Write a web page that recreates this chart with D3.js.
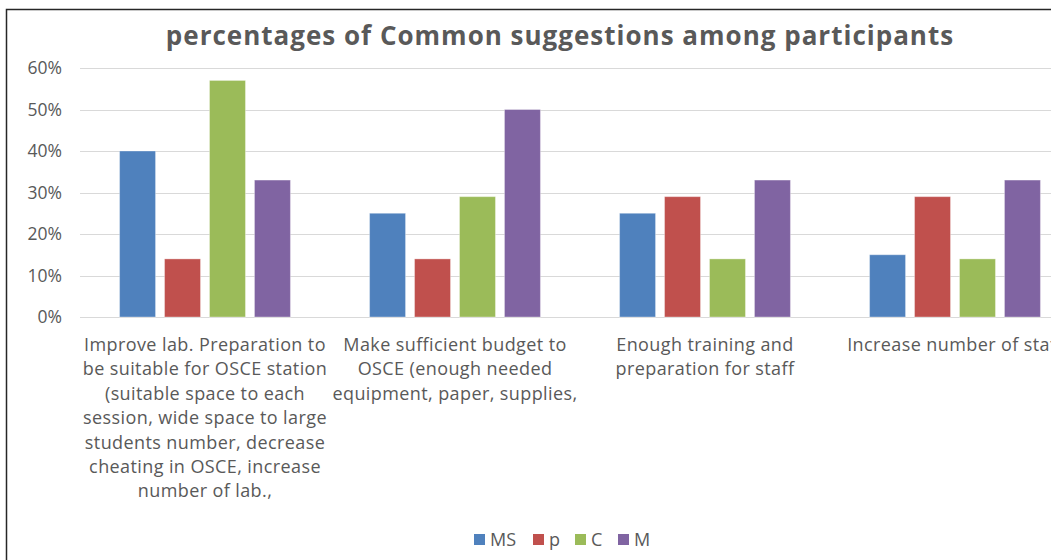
<!DOCTYPE html>
<html>
<head>
<meta charset="utf-8">
<script src="https://cdn.jsdelivr.net/npm/d3@7"></script>
<style>
	body { margin: 0; background: #fff; }
	svg { display: block; font-family: "Open Sans", "Noto Sans", sans-serif; }
</style>
</head>
<body>
<div id="chart"></div>
<script>
// Data
//---------------------------------------------------------------------------
var categories = ["lab", "budget", "training", "staff"];
var categoryLines = [
	["Improve lab. Preparation to", "be suitable for OSCE station", "(suitable space to each",
		"session, wide space to large", "students number, decrease", "cheating in OSCE, increase",
		"number of lab.,"],
	["Make sufficient budget to", "OSCE (enough needed", "equipment, paper, supplies,"],
	["Enough training and", "preparation for staff"],
	["Increase number of staff"]
];
var seriesNames = ["MS", "p", "C", "M"];
var msValues = [40, 25, 25, 15];
var pValues = [14, 14, 29, 29];
var cValues = [57, 29, 14, 14];
var mValues = [33, 50, 33, 33];
var yTicks = [0, 10, 20, 30, 40, 50, 60];
var colors = ["#4F81BD", "#C0504D", "#9BBB59", "#8064A2"];

var seriesValues = [msValues, pValues, cValues, mValues];

// Graphical parameters
var width = 1051, height = 560;
var textColor = "#595959";
var plot = { left: 80, right: 1080, top: 68, bottom: 317 };

var svg = d3.select("#chart").append("svg")
	.attr("width", width)
	.attr("height", height);

// frame of chart (right and bottom are cut off in the picture)
svg.append("path")
	.attr("d", "M6.5," + height + " L6.5,9.5 L" + width + ",9.5")
	.attr("fill", "none")
	.attr("stroke", "#262626")
	.attr("stroke-width", 1.5);

// scales
var x0 = d3.scaleBand()
	.domain(categories)
	.range([plot.left, plot.right]);
var x1 = d3.scaleBand()
	.domain(seriesNames)
	.range([0, x0.bandwidth()])
	.paddingInner(0.2)
	.paddingOuter(0.88);
var y = d3.scaleLinear()
	.domain([0, 60])
	.range([plot.bottom, plot.top]);

// gridlines
svg.append("g").selectAll("line")
	.data(yTicks).enter()
	.append("line")
	.attr("x1", plot.left)
	.attr("x2", plot.right)
	.attr("y1", function(d) { return Math.round(y(d)) + 0.5; })
	.attr("y2", function(d) { return Math.round(y(d)) + 0.5; })
	.attr("stroke", "#D9D9D9")
	.attr("stroke-width", 1);

// y axis labels
var yAxis = d3.axisLeft(y)
	.tickValues(yTicks)
	.tickSize(0)
	.tickPadding(18)
	.tickFormat(function(d) { return d + "%"; });
var gy = svg.append("g")
	.attr("transform", "translate(" + plot.left + ",0)")
	.call(yAxis);
gy.select(".domain").remove();
gy.selectAll("text")
	.attr("fill", textColor)
	.attr("font-size", "17.5px")
	.attr("font-family", "Open Sans, sans-serif");

// bars
var groups = svg.append("g").selectAll("g")
	.data(categories).enter()
	.append("g")
	.attr("transform", function(d) { return "translate(" + x0(d) + ",0)"; });

groups.selectAll("rect")
	.data(function(d, i) {
		return seriesNames.map(function(s, j) {
			return { series: s, value: seriesValues[j][i], color: colors[j] };
		});
	}).enter()
	.append("rect")
	.attr("x", function(d) { return x1(d.series); })
	.attr("width", x1.bandwidth())
	.attr("y", function(d) { return y(d.value); })
	.attr("height", function(d) { return y(0) - y(d.value); })
	.attr("fill", function(d) { return d.color; })
	.attr("stroke", "#ffffff")
	.attr("stroke-opacity", 0.35)
	.attr("stroke-width", 1);

// category labels
var lineHeight = 24.4;
var labels = svg.append("g").selectAll("text")
	.data(categories).enter()
	.append("text")
	.attr("x", function(d) { return x0(d) + x0.bandwidth() / 2; })
	.attr("y", 351)
	.attr("text-anchor", "middle")
	.attr("fill", textColor)
	.attr("font-size", "18px")
	.attr("letter-spacing", "0.4px");
labels.selectAll("tspan")
	.data(function(d, i) { return categoryLines[i]; }).enter()
	.append("tspan")
	.attr("x", function() { return d3.select(this.parentNode).attr("x"); })
	.attr("dy", function(d, i) { return i === 0 ? 0 : lineHeight; })
	.text(function(d) { return d; });

// title
svg.append("text")
	.attr("x", 560)
	.attr("y", 45)
	.attr("text-anchor", "middle")
	.attr("fill", textColor)
	.attr("font-weight", "bold")
	.attr("font-size", "26px")
	.attr("letter-spacing", "1px")
	.text("percentages of Common suggestions among participants");

// legend
var legendX = [474, 533, 575, 618];
var legend = svg.append("g").selectAll("g")
	.data(seriesNames).enter()
	.append("g")
	.attr("transform", function(d, i) { return "translate(" + legendX[i] + ",534)"; });
legend.append("rect")
	.attr("width", 11)
	.attr("height", 11)
	.attr("fill", function(d, i) { return colors[i]; });
legend.append("text")
	.attr("x", 16)
	.attr("y", 12)
	.attr("fill", textColor)
	.attr("font-size", "18px")
	.text(function(d) { return d; });
</script>
</body>
</html>
